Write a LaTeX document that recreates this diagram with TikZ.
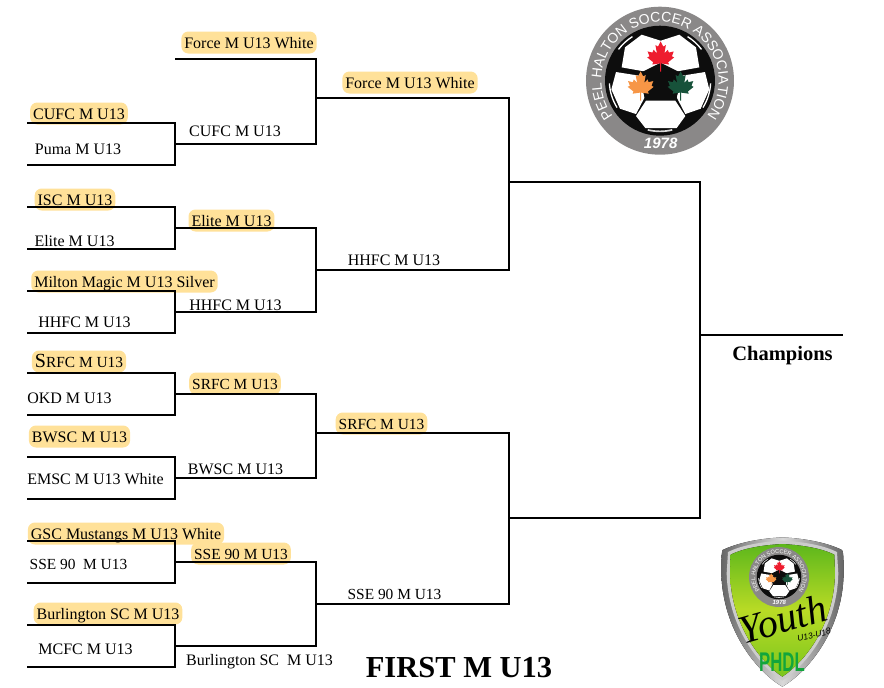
\documentclass[tikz,border=0pt]{standalone}
\usepackage{graphicx}
\usepackage{fontspec}
\setmainfont{Liberation Serif}
\newfontfamily\logosans{Liberation Sans}
\usetikzlibrary{decorations.text}
\definecolor{hlcol}{HTML}{FFE199}
\definecolor{ringgray}{HTML}{8A8888}
\definecolor{leafred}{HTML}{EE1C2E}
\definecolor{leaforange}{HTML}{F79646}
\definecolor{leafgreen}{HTML}{17523A}
\definecolor{phdlgreen}{HTML}{12A53C}
\definecolor{shieldtop}{HTML}{5DB71C}
\definecolor{shieldmid}{HTML}{B9DB25}
\definecolor{shieldbot}{HTML}{7CC61E}
\tikzset{
  bracketline/.style={line width=1.5pt,line join=miter,line cap=butt,black},
  team/.style={font=\fontsize{16}{16}\selectfont,inner sep=0pt,text height=12pt,text depth=.5pt,text=black},
  hlteam/.style={team,fill=hlcol,rounded corners=7pt,inner xsep=3pt,inner ysep=4.75pt}
}
\newcommand\tightname{\fontsize{15.4}{16}\selectfont}
% name, x0, x1, ytop, ybottom
\newcommand\bracketpair[5]{%
  \coordinate (#1-a) at (#2,#4);
  \coordinate (#1-b) at (#3,#4);
  \coordinate (#1-c) at (#3,#5);
  \coordinate (#1-d) at (#2,#5);
  \draw[bracketline] (#1-a) -- (#1-b) -- (#1-c) -- (#1-d);
}
% x, y, scale, colour
\newcommand\mapleleaf[4]{%
  \fill[#4,shift={(#1,#2)},scale=#3,yscale=-1]
   (0,1) -- (.14,.72) -- (.28,.80) -- (.2,.36) -- (.38,.55) -- (.44,.40) -- (.70,.46) -- (.60,.20) -- (.72,.14)
   -- (.40,-.12) -- (.45,-.24) -- (.03,-.18) -- (.03,-.62) -- (-.03,-.62) -- (-.03,-.18)
   -- (-.45,-.24) -- (-.40,-.12) -- (-.72,.14) -- (-.60,.20) -- (-.70,.46) -- (-.44,.40) -- (-.38,.55)
   -- (-.2,.36) -- (-.28,.80) -- (-.14,.72) -- cycle;
}
% cx, cy, scale, ring font size, year font size
\newcommand\balllogo[5]{%
 \begin{scope}[shift={(#1,#2)},scale=#3]
 \begin{scope}[shift={(-270,-212)}]
  \fill[ringgray] (270,212) circle[radius=222pt];
  \fill[black!95] (270,212) circle[radius=165pt];
  \fill[white] (272,92) -- (215,74) -- (165,112) -- (155,172) -- (222,184) -- (322,184) -- (388,172) -- (378,112) -- (328,74) -- cycle;
  \fill[white] (138,186) -- (208,197) -- (224,262) -- (198,312) -- (150,296) -- (124,238) -- cycle;
  \fill[white] (405,186) -- (336,197) -- (320,262) -- (346,312) -- (392,296) -- (418,238) -- cycle;
  \fill[white] (228,272) -- (316,272) -- (346,318) -- (320,354) -- (226,354) -- (198,318) -- cycle;
  \fill[black!95] (272,158) -- (335,190) -- (320,264) -- (224,264) -- (208,190) -- cycle;
  \draw[white,line width=#3*4pt] (270,212)+(122:156pt) arc[start angle=122,end angle=143,radius=156pt];
  \draw[white,line width=#3*4pt] (270,212)+(58:156pt) arc[start angle=58,end angle=37,radius=156pt];
  \draw[white,line width=#3*4pt] (270,212)+(183:152pt) arc[start angle=183,end angle=212,radius=152pt];
  \draw[white,line width=#3*4pt] (270,212)+(-3:152pt) arc[start angle=-3,end angle=-32,radius=152pt];
  \draw[white!85!black,line width=#3*5pt] (270,212)+(256:152pt) arc[start angle=256,end angle=284,radius=152pt];
  \mapleleaf{272}{150}{56}{leafred}
  \mapleleaf{212}{238}{54}{leaforange}
  \mapleleaf{332}{238}{54}{leafgreen}
  \path[decorate,decoration={text along path,text align={align=center},
    text={|\logosans\fontsize{#4}{#4}\selectfont\color{white}|PEEL HALTON SOCCER ASSOCIATION}}]
    (270,212)+(212:176pt) arc[start angle=212,end angle=-32,radius=176pt];
  \node[text=white,inner sep=0pt,font=\logosans\bfseries\itshape\fontsize{#5}{#5}\selectfont] (year#1) at (272,401) {1978};
 \end{scope}
 \end{scope}
}
\begin{document}
\begin{tikzpicture}[x=1pt,y=-1pt]
\useasboundingbox (0,0) rectangle (884,688);
% labels
\node[hlteam] (t01) at (249,42.5) {Force M U13 White};
\node[hlteam] (t02) at (79,113.5) {CUFC M U13};
\node[team] (t03) at (78,148.5) {Puma M U13};
\node[team] (t04) at (235,130.5) {CUFC M U13};
\node[hlteam] (t05) at (410,82.5) {Force M U13 White};
\node[hlteam] (t06) at (75,199.5) {ISC M U13};
\node[team] (t07) at (74.5,240.5) {Elite M U13};
\node[hlteam] (t08) at (231.5,220.5) {Elite M U13};
\node[hlteam] (t09) at (124.5,281.5) {Milton Magic M U13 Silver};
\node[team] (t10) at (84.5,321.5) {HHFC M U13};
\node[team] (t11) at (235.5,304.5) {HHFC M U13};
\node[team] (t12) at (394,259.5) {HHFC M U13};
\node[hlteam] (t13) at (79,361.5) {{\fontsize{20}{20}\selectfont S}{\tightname RFC M U13}};
\node[team] (t14) at (69.5,397.5) {OKD M U13};
\node[hlteam,font=\tightname] (t15) at (235,383.5) {SRFC M U13};
\node[hlteam,font=\tightname] (t16) at (381.5,423.5) {SRFC M U13};
\node[hlteam] (t17) at (79.5,436.5) {BWSC M U13};
\node[team] (t18) at (95.5,478.5) {EMSC M U13 White};
\node[team] (t19) at (235.5,468.5) {BWSC M U13};
\node[hlteam] (t20) at (126,533.5) {GSC Mustangs M U13 White};
\node[team,font=\tightname] (t21) at (78.5,563.5) {SSE 90\ \ M U13};
\node[hlteam,font=\tightname] (t22) at (241,553.5) {SSE 90 M U13};
\node[team,font=\tightname] (t23) at (394.5,593.5) {SSE 90 M U13};
\node[hlteam] (t24) at (108,613.5) {Burlington SC M U13};
\node[team] (t25) at (85.5,648.5) {MCFC M U13};
\node[team] (t26) at (259.5,659.5) {Burlington SC\ \ M U13};
\node[inner sep=0pt,font=\bfseries\fontsize{20.5}{21}\selectfont] (champ) at (782.5,356) {Champions};
\node[inner sep=0pt,font=\bfseries\fontsize{30.5}{31}\selectfont] (title) at (459,668) {FIRST M U13};
% first round
\bracketpair{r1a}{27}{175}{123}{165}
\bracketpair{r1b}{27}{175}{207}{249}
\bracketpair{r1c}{27}{175}{291}{333}
\bracketpair{r1d}{27}{175}{373}{415}
\bracketpair{r1e}{27}{175}{457}{499}
\bracketpair{r1f}{27}{175}{541}{583}
\bracketpair{r1g}{27}{175}{625}{667}
% second round
\bracketpair{r2a}{175}{316}{59}{144}
\bracketpair{r2b}{175}{316}{228}{312}
\bracketpair{r2c}{175}{316}{394}{478}
\bracketpair{r2d}{175}{316}{562}{646}
% third round
\bracketpair{r3a}{316}{509}{98}{270}
\bracketpair{r3b}{316}{509}{433}{604}
% semi-final
\bracketpair{r4a}{509}{700}{182}{518}
\coordinate (champin) at (700,335);
\coordinate (champout) at (843,335);
\draw[bracketline] (champin) -- (champout);
% association logo
\balllogo{660}{80.7}{0.3333}{14}{15}
% youth shield
\begin{scope}[shift={(700,530)},scale=0.3333]
  \fill[left color=black!60,right color=black!60,middle color=black!15]
    (247,22) .. controls (170,26) and (110,40) .. (68,60) .. controls (64,66) and (64,100) .. (64,130)
    .. controls (68,300) and (170,425) .. (247,470)
    .. controls (325,425) and (428,300) .. (431,130) .. controls (431,100) and (431,66) .. (426,60)
    .. controls (385,40) and (325,26) .. cycle;
  \fill[white!80!black] (247,32) .. controls (175,36) and (120,48) .. (84,66) -- (80,130)
    .. controls (84,290) and (175,405) .. (247,452)
    .. controls (320,405) and (412,290) .. (415,130) -- (411,66)
    .. controls (375,48) and (320,36) .. cycle;
  \fill[top color=shieldtop,bottom color=shieldbot,middle color=shieldmid]
    (247,42) .. controls (180,46) and (128,56) .. (92,74) -- (90,130)
    .. controls (94,285) and (180,395) .. (247,440)
    .. controls (315,395) and (402,285) .. (405,130) -- (403,74)
    .. controls (366,56) and (315,46) .. cycle;
\end{scope}
\balllogo{779}{577}{0.135}{5.6}{6}
\node[inner sep=0pt,rotate=16,font=\itshape\fontsize{40}{40}\selectfont] (youth) at (783,619) {Youth};
\node[inner sep=0pt,rotate=14,font=\logosans\itshape\fontsize{8.5}{9}\selectfont] (ages) at (814,635) {U13-U18};
\node[inner sep=0pt,text=phdlgreen,font=\logosans\bfseries\fontsize{27}{27}\selectfont] (phdl) at (782,662) {\scalebox{.62}[1]{PHDL}};
\end{tikzpicture}
\end{document}
